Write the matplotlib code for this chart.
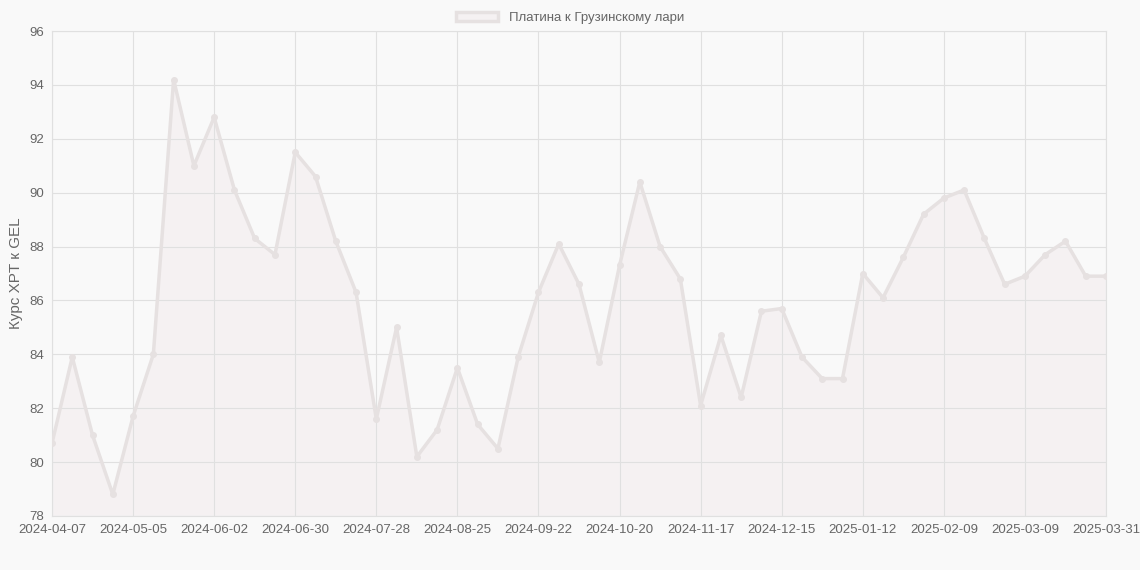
import matplotlib
matplotlib.use("Agg")
import matplotlib.pyplot as plt
import pandas as pd
from matplotlib.patches import Patch

plt.rcParams["font.family"] = ["Liberation Sans", "DejaVu Sans"]

# weekly categories, last point is 2025-03-31
dates = [d.strftime("%Y-%m-%d") for d in pd.date_range("2024-04-07", periods=52, freq="7D")] + ["2025-03-31"]
values = [80.7, 83.9, 81.0, 78.8, 81.7, 84.0, 94.2, 91.0, 92.8, 90.1,
          88.3, 87.7, 91.5, 90.6, 88.2, 86.3, 81.6, 85.0, 80.2, 81.2,
          83.5, 81.4, 80.5, 83.9, 86.3, 88.1, 86.6, 83.7, 87.3, 90.4,
          88.0, 86.8, 82.1, 84.7, 82.4, 85.6, 85.7, 83.9, 83.1, 83.1,
          87.0, 86.1, 87.6, 89.2, 89.8, 90.1, 88.3, 86.6, 86.9, 87.7,
          88.2, 86.9, 86.9]
label = "Платина к Грузинскому лари"

fig = plt.figure(figsize=(11.4, 5.7), dpi=100, facecolor="#f9f9f9")
ax = fig.add_axes([52 / 1140, 54 / 570, 1054 / 1140, 485 / 570])
ax.set_facecolor("#f9f9f9")

x = list(range(len(values)))
line_c = "#e6e1e1"
ax.fill_between(x, values, 78, color="#f5f1f2", zorder=1)
ax.plot(x, values, color=line_c, lw=2.5, marker="o", ms=4, zorder=3)

ax.set_xlim(0, len(values) - 1)
ax.set_ylim(78, 96)
ax.set_yticks(range(78, 97, 2))
ticks = list(range(0, 49, 4)) + [52]
ax.set_xticks(ticks)
ax.set_xticklabels([dates[i] for i in ticks])
ax.grid(True, color="#e0e0e0", lw=0.8)
for s in ax.spines.values():
    s.set_color("#e0e0e0")
ax.tick_params(colors="#666666", labelsize=9.5, length=0, pad=6)
ax.set_ylabel("Курс XPT к GEL", color="#666666", fontsize=11)

fig.legend(handles=[Patch(facecolor="#f5f1f2", edgecolor=line_c, lw=2.5, label=label)],
           loc="upper center", bbox_to_anchor=(0.5, 1.0), frameon=False,
           fontsize=9.5, labelcolor="#666666", handlelength=3.2)

fig.savefig("out.png", dpi=100, facecolor=fig.get_facecolor())
